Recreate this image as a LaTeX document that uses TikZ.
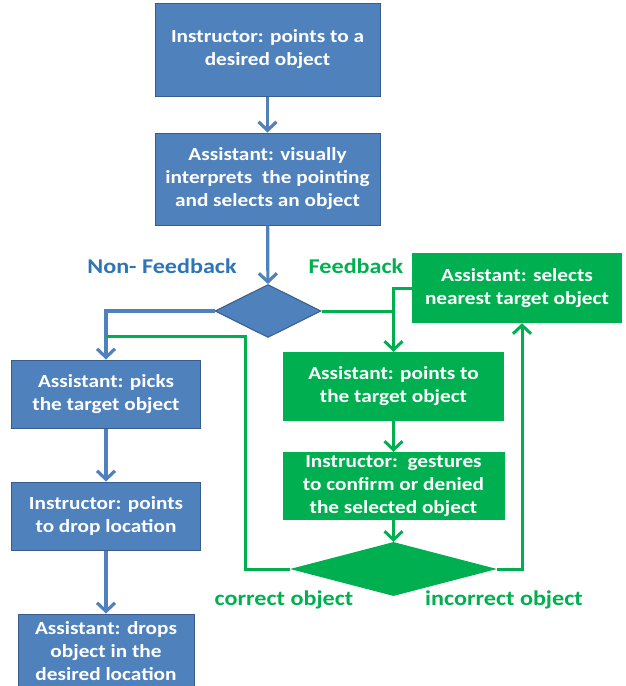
\documentclass[tikz,border=0pt]{standalone}
\usepackage{fontspec}
\setmainfont{Carlito}[FakeStretch=1.15]
\usetikzlibrary{arrows.meta,shapes.geometric}
\definecolor{boxblue}{HTML}{4F81BD}
\definecolor{edgeblue}{HTML}{385D8A}
\definecolor{textblue}{HTML}{2E75B6}
\definecolor{boxgreen}{HTML}{00B050}
\begin{document}
\begin{tikzpicture}[x=1pt,y=-1pt,
  bluebox/.style={draw=edgeblue, line width=1pt, fill=boxblue, text=white,
    font=\fontsize{18.5}{23}\selectfont\bfseries, align=center, inner sep=0pt},
  greenbox/.style={fill=boxgreen, text=white,
    font=\fontsize{18.5}{23}\selectfont\bfseries, align=center, inner sep=0pt},
  blueflow/.style={draw=boxblue, line width=3.2pt,
    -{Straight Barb[length=8.5pt,width=18pt,line width=3.2pt]}},
  greenflow/.style={draw=boxgreen, line width=3pt,
    -{Straight Barb[length=8.5pt,width=18pt,line width=3pt]}},
  greenline/.style={draw=boxgreen, line width=3pt},
  bluelabel/.style={text=textblue, font=\fontsize{21}{25}\selectfont\bfseries, inner sep=0pt},
  greenlabel/.style={text=boxgreen, font=\fontsize{21}{25}\selectfont\bfseries, inner sep=0pt},
]
\useasboundingbox (0,0) rectangle (626,686);
\begin{scope}
\clip (0,0) rectangle (626,686);

% main column
\node[bluebox, minimum width=225pt, minimum height=93pt] (point) at (267.5,49.5)
  {Instructor: points to a\\desired object};
\node[bluebox, minimum width=225pt, minimum height=92pt] (interp) at (267.5,179)
  {Assistant: visually\\interprets\ \ the pointing\\and selects an object};
\node[diamond, draw=edgeblue, line width=1pt, fill=boxblue, inner sep=0pt,
  minimum width=106pt, minimum height=53pt] (choice) at (268,311) {};

% non-feedback branch
\node[bluebox, minimum width=189pt, minimum height=68pt] (pick) at (106,394)
  {Assistant: picks\\the target object};
\node[bluebox, minimum width=189pt, minimum height=68pt] (drop) at (106,516)
  {Instructor: points\\to drop location};
\node[bluebox, minimum width=176pt, minimum height=74pt] (place) at (106,651)
  {Assistant: drops\\object in the\\desired location};

% feedback branch
\node[greenbox, minimum width=210pt, minimum height=70pt] (nearest) at (517,288)
  {Assistant: selects\\nearest target object};
\node[greenbox, minimum width=221pt, minimum height=69pt] (show) at (393.5,386.5)
  {Assistant: points to\\the target object};
\node[greenbox, minimum width=222pt, minimum height=68pt] (confirm) at (393.5,486)
  {Instructor:\ \ gestures\\to confirm or denied\\the selected object};
\node[diamond, fill=boxgreen, inner sep=0pt,
  minimum width=207pt, minimum height=54pt] (check) at (393.5,569) {};

% labels
\node[bluelabel] (nflab) at (162,266) {Non- Feedback};
\node[greenlabel] (fblab) at (356,266) {Feedback};
\node[greenlabel] (oklab) at (284,600) {correct object};
\node[greenlabel] (badlab) at (504,600) {incorrect object};

% connectors
\draw[blueflow] (point) -- (interp);
\draw[blueflow] (interp) -- (choice);
\draw[blueflow] (choice.west) -| (pick.north);
\draw[blueflow] (pick) -- (drop);
\draw[blueflow] (drop) -- (place);

\coordinate (join) at (show.north |- choice.east);
\draw[greenline] (nearest.west) -| (join);
\draw[greenflow] (choice.east) -| (show.north);
\draw[greenflow] (show) -- (confirm);
\draw[greenflow] (confirm) -- (check);

\coordinate (backleft) at (245,336);
\draw[greenline] (check.west) -| (backleft) -- (backleft -| pick.north);
\coordinate (backright) at (522,569);
\draw[greenflow] (check.east) -- (backright) -- (backright |- nearest.south);
\end{scope}
\end{tikzpicture}
\end{document}
